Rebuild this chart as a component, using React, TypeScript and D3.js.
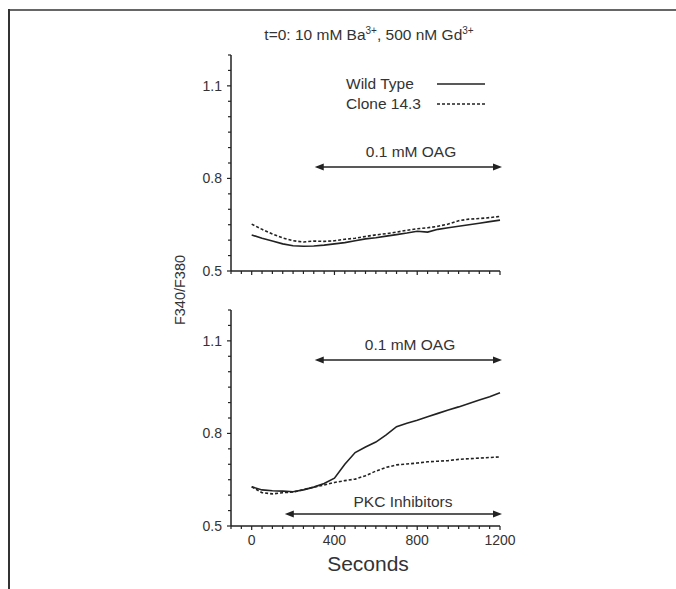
import React from "react";
import * as d3 from "d3";

const times = [0, 50, 100, 150, 200, 250, 300, 350, 400, 450, 500, 550, 600, 650, 700, 750, 800, 850, 900, 950, 1000, 1050, 1100, 1150, 1200];
const topWild = [0.617, 0.606, 0.597, 0.588, 0.582, 0.580, 0.581, 0.584, 0.588, 0.592, 0.598, 0.604, 0.608, 0.613, 0.618, 0.623, 0.629, 0.626, 0.635, 0.640, 0.645, 0.650, 0.655, 0.660, 0.665];
const topClone = [0.652, 0.635, 0.620, 0.607, 0.598, 0.594, 0.597, 0.596, 0.598, 0.603, 0.606, 0.612, 0.617, 0.621, 0.626, 0.632, 0.637, 0.640, 0.645, 0.652, 0.663, 0.668, 0.670, 0.673, 0.677];
const botWild = [0.627, 0.617, 0.614, 0.613, 0.611, 0.617, 0.626, 0.638, 0.655, 0.700, 0.738, 0.756, 0.772, 0.795, 0.822, 0.833, 0.843, 0.854, 0.865, 0.876, 0.886, 0.897, 0.908, 0.919, 0.932];
const botClone = [0.627, 0.608, 0.604, 0.608, 0.610, 0.618, 0.626, 0.633, 0.641, 0.647, 0.652, 0.663, 0.678, 0.690, 0.698, 0.701, 0.704, 0.708, 0.710, 0.712, 0.716, 0.718, 0.720, 0.722, 0.724];

const yTickLabels = [0.5, 0.8, 1.1];
const xTickLabels = [0, 400, 800, 1200];
const seriesNames = ["Wild Type", "Clone 14.3"];
const oagRange = [300, 1200];
const pkcRange = [160, 1200];

const W = 676, H = 589;
const FONT = "'Liberation Sans', Arial, sans-serif";
const INK = "#222";
const TXT = "#333";

const x = d3.scaleLinear().domain([-100, 1200]).range([231, 500]);
const yTop = d3.scaleLinear().domain([0.5, 1.2]).range([271, 55]);
const yBot = d3.scaleLinear().domain([0.5, 1.2]).range([526, 310]);

function Panel({ y, wild, clone, showXLabels }: { y: d3.ScaleLinear<number, number>; wild: number[]; clone: number[]; showXLabels: boolean }) {
  const line = (vals: number[]) =>
    d3.line<number>().x((_, i) => x(times[i])).y((v) => y(v))(vals) || "";
  const yMinor = d3.range(0.5, 1.2001, 0.05);
  const xMinor = d3.range(-100, 1200.1, 50);
  const y0 = y(0.5);
  return (
    <g>
      <line x1={x(-100)} x2={x(-100)} y1={y(1.2)} y2={y0} stroke={INK} strokeWidth={1.5} />
      <line x1={x(-100)} x2={x(1200)} y1={y0} y2={y0} stroke={INK} strokeWidth={1.5} />
      {yMinor.map((v, i) => {
        const major = yTickLabels.some((t) => Math.abs(t - v) < 1e-6);
        return <line key={"y" + i} x1={x(-100) - (major ? 4 : 3)} x2={x(-100)} y1={y(v)} y2={y(v)} stroke={INK} strokeWidth={1.2} />;
      })}
      {yTickLabels.map((v) => (
        <text key={"yl" + v} x={x(-100) - 9} y={y(v)} dy="0.36em" textAnchor="end" fontSize={14} fill={TXT} fontFamily={FONT}>
          {v.toFixed(1)}
        </text>
      ))}
      {xMinor.map((v, i) => {
        const major = xTickLabels.includes(Math.round(v));
        return <line key={"x" + i} x1={x(v)} x2={x(v)} y1={y0} y2={y0 + (major ? 4 : 3)} stroke={INK} strokeWidth={1.2} />;
      })}
      {showXLabels &&
        xTickLabels.map((v) => (
          <text key={"xl" + v} x={x(v)} y={y0 + 19} textAnchor="middle" fontSize={14} fill={TXT} fontFamily={FONT}>
            {v}
          </text>
        ))}
      <path d={line(wild)} fill="none" stroke={INK} strokeWidth={1.6} />
      <path d={line(clone)} fill="none" stroke={INK} strokeWidth={1.6} strokeDasharray="3,2" />
    </g>
  );
}

function Arrow({ x1, x2, yy, label, labelX, labelY }: { x1: number; x2: number; yy: number; label: string; labelX: number; labelY: number }) {
  const a = 9, h = 3.5;
  return (
    <g>
      <line x1={x1 + a - 1} x2={x2 - a + 1} y1={yy} y2={yy} stroke={INK} strokeWidth={1.6} />
      <path d={`M${x1},${yy}L${x1 + a},${yy - h}L${x1 + a},${yy + h}Z`} fill={INK} />
      <path d={`M${x2},${yy}L${x2 - a},${yy - h}L${x2 - a},${yy + h}Z`} fill={INK} />
      <text x={labelX} y={labelY} textAnchor="middle" fontSize={15.5} fill={TXT} fontFamily={FONT}>
        {label}
      </text>
    </g>
  );
}

export default function App() {
  return (
    <svg width={W} height={H} style={{ position: "absolute", left: 0, top: 0, background: "#fff" }}>
      <rect x={0} y={0} width={W} height={H} fill="#fff" />
      <line x1={8} x2={W} y1={10} y2={10} stroke="#666" strokeWidth={2} />
      <line x1={9} x2={9} y1={9} y2={H} stroke="#333" strokeWidth={2} />
      <text x={369} y={40} textAnchor="middle" fontSize={15.5} fill={TXT} fontFamily={FONT}>
        t=0: 10 mM Ba<tspan fontSize={10} dy={-6}>3+</tspan>
        <tspan dy={6}>, 500 nM Gd</tspan>
        <tspan fontSize={10} dy={-6}>3+</tspan>
      </text>
      <Panel y={yTop} wild={topWild} clone={topClone} showXLabels={false} />
      <Panel y={yBot} wild={botWild} clone={botClone} showXLabels={true} />
      {/* legend */}
      <text x={346} y={89} fontSize={15.5} fill={TXT} fontFamily={FONT}>{seriesNames[0]}</text>
      <line x1={437} x2={485} y1={84} y2={84} stroke={INK} strokeWidth={1.6} />
      <text x={346} y={109} fontSize={15.5} fill={TXT} fontFamily={FONT}>{seriesNames[1]}</text>
      <line x1={437} x2={485} y1={104} y2={104} stroke={INK} strokeWidth={1.6} strokeDasharray="3,2" />
      <Arrow x1={x(oagRange[0]) + 1} x2={x(oagRange[1]) + 2} yy={167} label="0.1 mM OAG" labelX={411} labelY={157} />
      <Arrow x1={x(oagRange[0]) + 1} x2={x(oagRange[1]) + 2} yy={360} label="0.1 mM OAG" labelX={410} labelY={350} />
      <Arrow x1={x(pkcRange[0])} x2={x(pkcRange[1]) + 2} yy={514} label="PKC Inhibitors" labelX={403} labelY={507} />
      <text transform="translate(185,290) rotate(-90)" textAnchor="middle" fontSize={14.5} fill={TXT} fontFamily={FONT}>F340/F380</text>
      <text x={368} y={571} textAnchor="middle" fontSize={21} fill={TXT} fontFamily={FONT}>Seconds</text>
    </svg>
  );
}
